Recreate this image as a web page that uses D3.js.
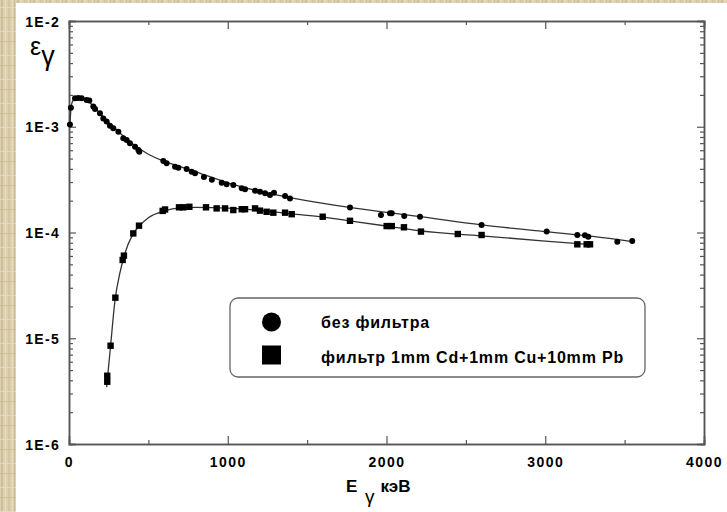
<!DOCTYPE html>
<html><head><meta charset="utf-8">
<script src="https://cdn.jsdelivr.net/npm/d3@7/dist/d3.min.js"></script>
<style>
body{margin:0;padding:0;background:#fff;}
svg{display:block;}
text{font-family:"Liberation Sans",Arial,sans-serif;}
</style></head>
<body>
<script>
// ---- data ----
const xTickValues = [0, 1000, 2000, 3000, 4000];
const yTickValues = [1e-6, 1e-5, 1e-4, 1e-3, 1e-2];
const yTickLabels = ["1E-6", "1E-5", "1E-4", "1E-3", "1E-2"];

const seriesNames = ["без фильтра", "фильтр 1mm Cd+1mm Cu+10mm Pb"];

// series 1: no filter (circles)
const noFilterE = [6,12,38,59,80,111,128,153,164,195,216,237,258,279,311,342,363,384,416,437,443,594,615,668,689,741,773,794,850,900,962,993,1035,1088,1109,1172,1203,1235,1266,1291,1361,1392,1770,1965,2022,2033,2112,2211,2599,3009,3202,3250,3271,3454,3548];
const noFilterV = [1.05e-3,1.51e-3,1.86e-3,1.87e-3,1.86e-3,1.79e-3,1.77e-3,1.55e-3,1.47e-3,1.34e-3,1.2e-3,1.12e-3,1.02e-3,9.67e-4,8.97e-4,7.78e-4,7.5e-4,6.97e-4,6.47e-4,6.03e-4,5.8e-4,4.74e-4,4.51e-4,4.19e-4,4.1e-4,3.98e-4,3.76e-4,3.63e-4,3.35e-4,3.15e-4,2.96e-4,2.86e-4,2.81e-4,2.62e-4,2.57e-4,2.48e-4,2.43e-4,2.35e-4,2.26e-4,2.38e-4,2.21e-4,2.1e-4,1.72e-4,1.46e-4,1.52e-4,1.52e-4,1.43e-4,1.41e-4,1.18e-4,1.02e-4,9.47e-5,9.4e-5,9.12e-5,8.18e-5,8.3e-5];

// series 2: with filter (squares)
const filterE = [241,241,262,292,338,346,405,441,590,605,693,720,758,863,930,983,1035,1088,1109,1172,1203,1245,1287,1361,1403,1598,1770,2001,2033,2110,2217,2449,2599,3202,3261,3282];
const filterV = [3.88e-6,4.42e-6,8.5e-6,2.42e-5,5.5e-5,6.04e-5,9.8e-5,1.16e-4,1.6e-4,1.65e-4,1.73e-4,1.73e-4,1.75e-4,1.73e-4,1.69e-4,1.69e-4,1.63e-4,1.66e-4,1.66e-4,1.69e-4,1.61e-4,1.57e-4,1.54e-4,1.54e-4,1.49e-4,1.41e-4,1.29e-4,1.15e-4,1.15e-4,1.12e-4,1.02e-4,9.68e-5,9.47e-5,7.73e-5,7.73e-5,7.73e-5];

// fitted curves
const noFilterFitE = [5,15,30,50,80,120,160,200,250,300,400,500,600,700,800,1000,1200,1400,1800,2200,2600,3000,3300,3550];
const noFilterFitV = [1.0e-3,1.6e-3,1.82e-3,1.88e-3,1.86e-3,1.76e-3,1.52e-3,1.32e-3,1.1e-3,9.3e-4,6.9e-4,5.5e-4,4.7e-4,4.2e-4,3.75e-4,2.95e-4,2.45e-4,2.13e-4,1.7e-4,1.42e-4,1.18e-4,1.02e-4,9.2e-5,8.2e-5];
const filterFitE = [237,245,262,290,320,350,400,450,500,600,700,800,1000,1200,1400,1600,1800,2000,2200,2600,3000,3282];
const filterFitV = [3.45e-6,4.6e-6,8.5e-6,2.3e-5,4.1e-5,6.2e-5,9.5e-5,1.18e-4,1.38e-4,1.6e-4,1.71e-4,1.73e-4,1.7e-4,1.62e-4,1.5e-4,1.4e-4,1.27e-4,1.15e-4,1.04e-4,9.3e-5,8.3e-5,7.7e-5];

// ---- layout ----
const W = 727, H = 512;
const L = 69, R = 704, T = 21, B = 444;

const svg = d3.select("body").append("svg").attr("width", W).attr("height", H);

// parchment background
const pat = svg.append("defs").append("pattern").attr("id","parch")
  .attr("patternUnits","userSpaceOnUse").attr("width",16).attr("height",24);
pat.append("rect").attr("width",16).attr("height",24).attr("fill","#ddd0b0");
const stripes = [[1,2,"#cfc09b"],[5,1,"#e8dec4"],[8,2,"#d4c6a3"],[12,1,"#e6dbbf"],[14,1,"#cdbd97"]];
stripes.forEach(s => pat.append("rect").attr("x",s[0]).attr("y",0).attr("width",s[1]).attr("height",24).attr("fill",s[2]));
pat.append("rect").attr("x",0).attr("y",7).attr("width",16).attr("height",1).attr("fill","#e8dfc6").attr("opacity",0.7);
pat.append("rect").attr("x",0).attr("y",17).attr("width",16).attr("height",1).attr("fill","#c9b990").attr("opacity",0.6);
svg.append("rect").attr("width",W).attr("height",H).attr("fill","url(#parch)");
svg.append("rect").attr("x",16).attr("y",3).attr("width",W-16).attr("height",H-3).attr("fill","#fff");

const x = d3.scaleLinear().domain([0,4000]).range([L,R]);
const y = d3.scaleLog().domain([1e-6,1e-2]).range([B,T]);

const minorY = y.ticks().filter(v => !yTickValues.some(m => Math.abs(v/m - 1) < 1e-6));
const minorX = [500,1500,2500,3500];

const axisColor = "#555";
function styleAxis(g){
  g.select(".domain").attr("stroke",axisColor).attr("stroke-width",1.5);
  g.selectAll(".tick line").attr("stroke",axisColor).attr("stroke-width",1.2);
}

// left major with labels
const gl = svg.append("g").attr("transform",`translate(${L},0)`)
  .call(d3.axisLeft(y).tickValues(yTickValues).tickSize(-7).tickPadding(9)
    .tickFormat((d,i)=>yTickLabels[i]));
gl.selectAll("text").attr("font-size",14).attr("font-weight","bold").attr("fill","#000")
  .attr("letter-spacing","1.3px").attr("dy","0.36em");
styleAxis(gl);
const glm = svg.append("g").attr("transform",`translate(${L},0)`)
  .call(d3.axisLeft(y).tickValues(minorY).tickSize(-4).tickFormat(""));
styleAxis(glm);

// right
const gr = svg.append("g").attr("transform",`translate(${R},0)`)
  .call(d3.axisRight(y).tickValues(yTickValues).tickSize(-7).tickFormat(""));
styleAxis(gr);
const grm = svg.append("g").attr("transform",`translate(${R},0)`)
  .call(d3.axisRight(y).tickValues(minorY).tickSize(-4).tickFormat(""));
styleAxis(grm);

// bottom
const gb = svg.append("g").attr("transform",`translate(0,${B})`)
  .call(d3.axisBottom(x).tickValues(xTickValues).tickSize(-8).tickPadding(13).tickFormat(d3.format("d")));
gb.selectAll("text").attr("font-size",14).attr("font-weight","bold").attr("fill","#000")
  .attr("letter-spacing","1.5px");
styleAxis(gb);
const gbm = svg.append("g").attr("transform",`translate(0,${B})`)
  .call(d3.axisBottom(x).tickValues(minorX).tickSize(-4).tickFormat(""));
styleAxis(gbm);

// top
const gt = svg.append("g").attr("transform",`translate(0,${T})`)
  .call(d3.axisTop(x).tickValues(xTickValues).tickSize(-8).tickFormat(""));
styleAxis(gt);
const gtm = svg.append("g").attr("transform",`translate(0,${T})`)
  .call(d3.axisTop(x).tickValues(minorX).tickSize(-4).tickFormat(""));
styleAxis(gtm);

// fit lines
const line = d3.line().x(d=>x(d[0])).y(d=>y(d[1])).curve(d3.curveMonotoneX);
svg.append("path").datum(d3.zip(noFilterFitE,noFilterFitV)).attr("d",line)
  .attr("fill","none").attr("stroke","#333").attr("stroke-width",1.3);
svg.append("path").datum(d3.zip(filterFitE,filterFitV)).attr("d",line)
  .attr("fill","none").attr("stroke","#333").attr("stroke-width",1.3);

// markers
svg.append("g").selectAll("circle").data(d3.zip(noFilterE,noFilterV)).join("circle")
  .attr("cx",d=>x(d[0])).attr("cy",d=>y(d[1])).attr("r",3.0).attr("fill","#000");
svg.append("g").selectAll("rect").data(d3.zip(filterE,filterV)).join("rect")
  .attr("x",d=>x(d[0])-3.2).attr("y",d=>y(d[1])-3.2).attr("width",6.4).attr("height",6.4).attr("fill","#000");

// legend
const lg = svg.append("g");
lg.append("rect").attr("x",230).attr("y",298).attr("width",415).attr("height",79).attr("rx",8)
  .attr("fill","#fff").attr("stroke","#666").attr("stroke-width",1.3);
lg.append("circle").attr("cx",271.5).attr("cy",322).attr("r",9.5).attr("fill","#000");
lg.append("rect").attr("x",262).attr("y",345.5).attr("width",19).attr("height",19).attr("fill","#000");
lg.append("text").attr("x",321).attr("y",327.5).text(seriesNames[0])
  .attr("font-size",16).attr("font-weight","bold").attr("letter-spacing","0.8px");
lg.append("text").attr("x",321).attr("y",363).text(seriesNames[1])
  .attr("font-size",16).attr("font-weight","bold").attr("letter-spacing","0.8px");

// axis titles
const yt = svg.append("text").attr("x",30).attr("y",55).attr("font-size",25);
yt.append("tspan").text("ε");
yt.append("tspan").attr("font-size",27).attr("dy",10).text("γ");

const xt = svg.append("text").attr("x",346).attr("y",492).attr("font-weight","bold").attr("font-size",17);
xt.append("tspan").text("E ");
xt.append("tspan").attr("font-weight","normal").attr("font-size",19).attr("dy",11).attr("dx",3).text("γ");
xt.append("tspan").attr("dy",-11).attr("dx",6).text("кэВ");
</script>
</body></html>
